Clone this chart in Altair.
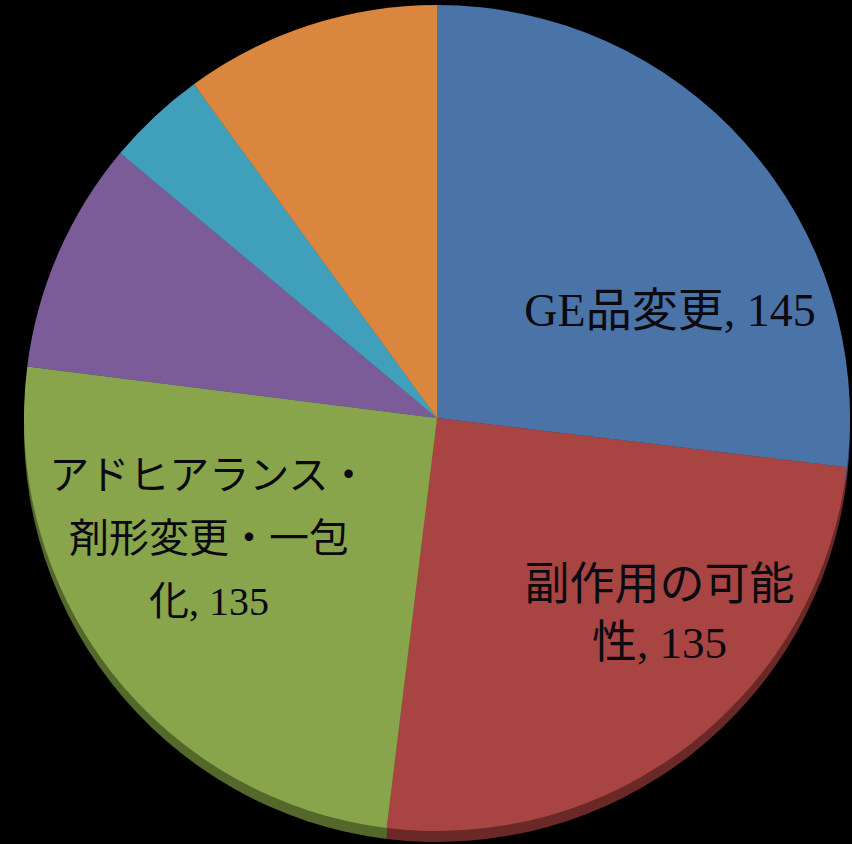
import altair as alt
import pandas as pd
import math

# ---- data ----
categories = ["GE品変更", "副作用の可能性", "アドヒアランス・剤形変更・一包化", "その他A", "その他B", "その他C"]
values = [145, 135, 135, 49, 21, 54]
label_texts = ["GE品変更, 145", "副作用の可能\n性, 135", "アドヒアランス・\n剤形変更・一包\n化, 135", "", "", ""]

# ---- styles ----
colors = ["#4a74a8", "#a84542", "#89a54c", "#7b5c99", "#40a0bc", "#da863f"]
rim_colors = ["#2a4466", "#6a2826", "#55682c", "#4a3860", "#255f70", "#8a5224"]
total = sum(values)
CX, CY, R = 437, 418, 413

df = pd.DataFrame({
    "category": categories,
    "value": values,
    "order": list(range(len(categories))),
    "label": label_texts,
})

theta_scale = alt.Scale(domain=[0, total], range=[0, 2 * math.pi])

base = alt.Chart(df)

rim = base.mark_arc(outerRadius=R).encode(
    x=alt.value(CX),
    y=alt.value(CY + 11),
    theta=alt.Theta("value:Q", stack=True, scale=theta_scale),
    order=alt.Order("order:Q"),
    color=alt.Color("category:N", scale=alt.Scale(domain=categories, range=rim_colors), legend=None),
)

pie = base.mark_arc(outerRadius=R).encode(
    x=alt.value(CX),
    y=alt.value(CY),
    theta=alt.Theta("value:Q", stack=True, scale=theta_scale),
    order=alt.Order("order:Q"),
    color=alt.Color("category:N", scale=alt.Scale(domain=categories, range=colors), legend=None),
)

lab_base = base.transform_window(
    cum="sum(value)", sort=[alt.SortField("order")]
).transform_calculate(mid="datum.cum - datum.value / 2")

FONT = "Liberation Serif, Noto Sans CJK JP"


def label_layer(cat, dx, dy, size, lh):
    return lab_base.transform_filter(alt.datum.category == cat).mark_text(
        radius=270, dx=dx, dy=dy, align="center", baseline="middle",
        font=FONT, fontSize=size, lineBreak="\n", lineHeight=lh, color="#0a0a10",
    ).encode(
        x=alt.value(CX),
        y=alt.value(CY),
        theta=alt.Theta("mid:Q", scale=theta_scale, stack=False),
        text=alt.Text("label:N"),
    )


chart = alt.layer(
    rim,
    pie,
    label_layer(categories[0], 31, 73, 46, 60),
    label_layer(categories[1], 56, -45, 45, 58),
    label_layer(categories[2], -15, -107, 40, 63),
).resolve_scale(color="independent").properties(
    width=852, height=844, padding=0, autosize="none", background="black"
).configure_view(strokeWidth=0)

chart.save("out.html", embed_options={"renderer": "svg", "actions": False})
